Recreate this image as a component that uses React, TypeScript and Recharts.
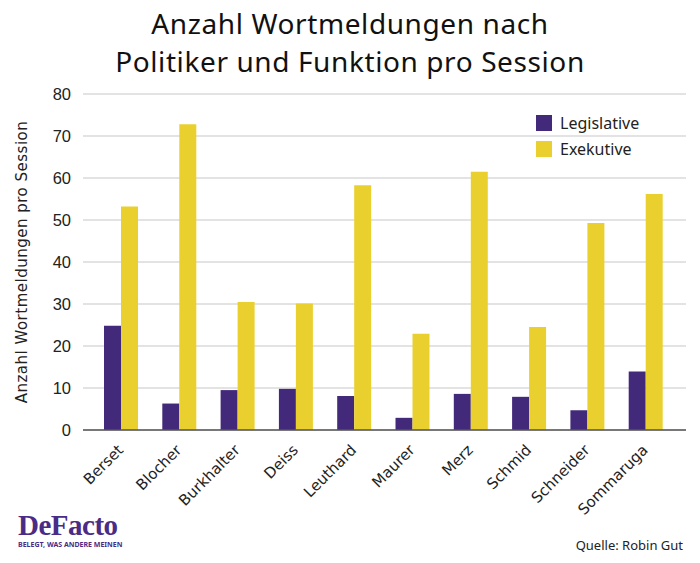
import { BarChart, Bar, XAxis, YAxis, CartesianGrid } from 'recharts';

const politicians = ['Berset', 'Blocher', 'Burkhalter', 'Deiss', 'Leuthard', 'Maurer', 'Merz', 'Schmid', 'Schneider', 'Sommaruga'];
const legislative = [24.8, 6.3, 9.5, 9.8, 8.1, 2.9, 8.6, 7.9, 4.7, 13.9];
const executive = [53.2, 72.8, 30.5, 30.1, 58.3, 22.9, 61.5, 24.5, 49.3, 56.2];
const yTicks = [0, 10, 20, 30, 40, 50, 60, 70, 80];

const PURPLE = '#42297a';
const YELLOW = '#ead02e';

const data = politicians.map((name, i) => ({ name, legislative: legislative[i], executive: executive[i] }));

function XTick(props: any) {
    const { x, y, payload } = props;
    const ax = x + 3;
    const ay = y + 13;
    return (
        <text
            x={ax}
            y={ay}
            transform={`rotate(-45, ${ax}, ${ay})`}
            textAnchor="end"
            fontSize={15}
            fontFamily="DejaVu Sans"
            fill="#222"
        >
            {payload.value}
        </text>
    );
}

// legend drawn by hand so it does not take space from the plot
function LegendBox() {
    const items = [
        { label: 'Legislative', color: PURPLE },
        { label: 'Exekutive', color: YELLOW },
    ];
    return (
        <div style={{ position: 'absolute', left: 536, top: 110, fontFamily: 'Noto Sans', fontSize: 16, color: '#222' }}>
            {items.map((it) => (
                <div key={it.label} style={{ display: 'flex', alignItems: 'center', height: 26 }}>
                    <span style={{ width: 16, height: 16, background: it.color, marginRight: 8 }} />
                    {it.label}
                </div>
            ))}
        </div>
    );
}

export default function App() {
    return (
        <div style={{ position: 'absolute', left: 0, top: 0, width: 700, height: 563, background: '#fff' }}>
            <div
                style={{
                    position: 'absolute',
                    top: 4,
                    width: 700,
                    textAlign: 'center',
                    fontFamily: 'Noto Sans',
                    fontSize: 28,
                    letterSpacing: 0.6,
                    lineHeight: '38px',
                    color: '#111',
                }}
            >
                Anzahl Wortmeldungen nach
                <br />
                Politiker und Funktion pro Session
            </div>
            <BarChart
                width={700}
                height={563}
                data={data}
                margin={{ top: 94, right: 14, left: 0, bottom: 0 }}
                barSize={17}
                barGap={0}
            >
                <CartesianGrid vertical={false} stroke="#c8c8c8" strokeWidth={1.2} />
                <XAxis
                    dataKey="name"
                    interval={0}
                    tick={<XTick />}
                    tickLine={false}
                    axisLine={{ stroke: '#555', strokeWidth: 1.5 }}
                    padding={{ left: 9, right: 11 }}
                    height={133}
                />
                <YAxis
                    width={83}
                    domain={[0, 80]}
                    ticks={yTicks}
                    tickLine={false}
                    axisLine={false}
                    tick={{ fontSize: 16.5, fill: '#222', fontFamily: 'Liberation Sans' }}
                    tickMargin={6}
                    label={{
                        value: 'Anzahl Wortmeldungen pro Session',
                        angle: -90,
                        position: 'insideLeft',
                        dx: 17,
                        style: { fontSize: 15, letterSpacing: 0.5, fill: '#222', fontFamily: 'DejaVu Sans', textAnchor: 'middle' },
                    }}
                />
                <Bar dataKey="legislative" name="Legislative" fill={PURPLE} isAnimationActive={false} />
                <Bar dataKey="executive" name="Exekutive" fill={YELLOW} isAnimationActive={false} />
            </BarChart>
            <LegendBox />
            <div style={{ position: 'absolute', left: 18, top: 510, color: '#4a2c86' }}>
                <div style={{ fontFamily: 'Liberation Serif', fontSize: 29, fontWeight: 'bold', letterSpacing: -0.5, lineHeight: '30px' }}>
                    DeFacto
                </div>
                <div style={{ fontFamily: 'Noto Sans', fontSize: 7, fontWeight: 'bold', lineHeight: '9px' }}>
                    BELEGT, WAS ANDERE MEINEN
                </div>
            </div>
            <div
                style={{
                    position: 'absolute',
                    right: 17,
                    top: 536,
                    fontFamily: 'Noto Sans',
                    fontSize: 13,
                    color: '#222',
                }}
            >
                Quelle: Robin Gut
            </div>
        </div>
    );
}
